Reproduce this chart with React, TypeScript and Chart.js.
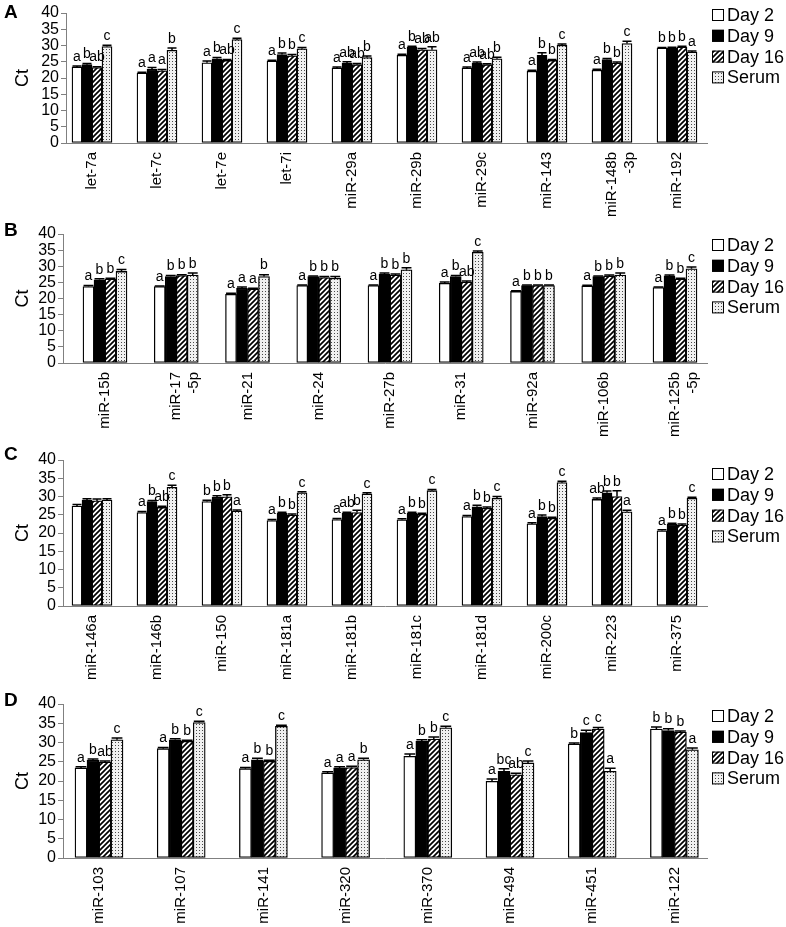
import React, { useEffect, useRef } from "react";
import { Chart, registerables } from "chart.js";
Chart.register(...registerables);

const FONT = 'Arial, "Liberation Sans", Helvetica, sans-serif';
Chart.defaults.font.family = FONT;

const seriesLabels = ["Day 2", "Day 9", "Day 16", "Serum"];
const yTicks = [0, 5, 10, 15, 20, 25, 30, 35, 40];

// ---------- Panel A ----------
const catsA: (string | string[])[] = ["let-7a", "let-7c", "let-7e", "let-7i", "miR-29a", "miR-29b", "miR-29c", "miR-143", ["miR-148b", "-3p"], "miR-192"];
const aDay2 = [23.4, 21.5, 24.7, 25.2, 23.1, 27.0, 23.1, 22.1, 22.4, 29.2];
const aDay9 = [24.1, 22.7, 25.9, 27.2, 24.6, 29.5, 24.6, 27.0, 25.7, 29.2];
const aDay16 = [23.2, 22.2, 25.4, 26.8, 24.1, 28.7, 24.1, 25.4, 24.6, 29.5];
const aSerum = [29.7, 28.5, 31.8, 29.0, 26.3, 28.7, 25.9, 30.1, 30.6, 28.0];
const aErr2 = [0.3, 0.3, 0.5, 0.3, 0.3, 0.3, 0.3, 0.3, 0.3, 0.2];
const aErr9 = [0.4, 0.5, 0.4, 0.5, 0.4, 0.3, 0.3, 0.8, 0.3, 0.3];
const aErr16 = [0.3, 0.4, 0.3, 0.4, 0.4, 0.4, 0.3, 0.3, 0.3, 0.3];
const aErrS = [0.4, 0.7, 0.4, 0.4, 0.5, 0.9, 0.5, 0.4, 0.7, 0.3];
const aLet2 = ["a", "a", "a", "a", "a", "a", "a", "a", "a", "b"];
const aLet9 = ["b", "a", "b", "b", "ab", "b", "ab", "b", "b", "b"];
const aLet16 = ["ab", "a", "ab", "b", "ab", "ab", "ab", "b", "b", "b"];
const aLetS = ["c", "b", "c", "c", "b", "ab", "b", "c", "c", "a"];

// ---------- Panel B ----------
const catsB: (string | string[])[] = ["miR-15b", ["miR-17", "-5p"], "miR-21", "miR-24", "miR-27b", "miR-31", "miR-92a", "miR-106b", ["miR-125b", "-5p"]];
const bDay2 = [23.7, 23.7, 21.3, 24.0, 24.0, 24.7, 22.2, 23.9, 23.4];
const bDay9 = [25.8, 26.8, 23.2, 26.8, 27.6, 26.8, 24.0, 26.8, 27.0];
const bDay16 = [26.0, 27.1, 22.9, 26.5, 27.3, 25.1, 24.0, 27.0, 26.0];
const bSerum = [28.4, 27.3, 26.8, 26.3, 28.9, 34.3, 24.0, 27.3, 29.2];
const bErr2 = [0.3, 0.2, 0.3, 0.2, 0.2, 0.4, 0.2, 0.2, 0.2];
const bErr9 = [0.3, 0.3, 0.4, 0.2, 0.3, 0.3, 0.2, 0.2, 0.3];
const bErr16 = [0.3, 0.3, 0.3, 0.3, 0.3, 0.3, 0.2, 0.3, 0.3];
const bErrS = [0.6, 0.6, 0.6, 0.5, 0.6, 0.4, 0.2, 0.6, 0.6];
const bLet2 = ["a", "a", "a", "a", "a", "a", "a", "a", "a"];
const bLet9 = ["b", "b", "a", "b", "b", "b", "b", "b", "b"];
const bLet16 = ["b", "b", "a", "b", "b", "ab", "b", "b", "b"];
const bLetS = ["c", "b", "b", "b", "b", "c", "b", "b", "c"];

// ---------- Panel C ----------
const catsC: (string | string[])[] = ["miR-146a", "miR-146b", "miR-150", "miR-181a", "miR-181b", "miR-181c", "miR-181d", "miR-200c", "miR-223", "miR-375"];
const cDay2 = [27.4, 25.6, 28.6, 23.4, 23.7, 23.6, 24.5, 22.5, 29.2, 20.6];
const cDay9 = [29.0, 28.6, 29.8, 25.4, 25.4, 25.4, 27.2, 24.5, 31.0, 22.4];
const cDay16 = [28.8, 27.0, 29.9, 24.9, 25.6, 25.1, 26.8, 24.0, 30.0, 22.2];
const cSerum = [29.0, 32.5, 26.0, 31.0, 30.7, 31.6, 29.5, 33.8, 25.8, 29.5];
const cErr2 = [0.4, 0.3, 0.4, 0.3, 0.3, 0.3, 0.3, 0.3, 0.4, 0.3];
const cErr9 = [0.4, 0.3, 0.4, 0.3, 0.3, 0.3, 0.4, 0.4, 0.5, 0.3];
const cErr16 = [0.5, 0.3, 0.6, 0.3, 0.6, 0.3, 0.3, 0.3, 1.6, 0.3];
const cErrS = [0.4, 0.6, 0.3, 0.3, 0.3, 0.3, 0.5, 0.4, 0.4, 0.3];
const cLet2 = ["", "a", "b", "a", "a", "a", "a", "a", "ab", "a"];
const cLet9 = ["", "b", "b", "b", "ab", "b", "b", "b", "b", "b"];
const cLet16 = ["", "ab", "b", "b", "b", "b", "b", "b", "b", "b"];
const cLetS = ["", "c", "a", "c", "c", "c", "c", "c", "a", "c"];

// ---------- Panel D ----------
const catsD: (string | string[])[] = ["miR-103", "miR-107", "miR-141", "miR-320", "miR-370", "miR-494", "miR-451", "miR-122"];
const dDay2 = [23.4, 28.4, 23.2, 22.1, 26.4, 19.9, 29.6, 33.5];
const dDay9 = [25.4, 30.7, 25.5, 23.4, 30.3, 22.5, 32.6, 33.1];
const dDay16 = [24.9, 30.3, 25.1, 23.5, 30.9, 21.6, 33.5, 32.7];
const dSerum = [30.7, 35.2, 34.2, 25.5, 33.8, 24.7, 22.5, 28.1];
const dErr2 = [0.3, 0.3, 0.3, 0.3, 0.6, 0.6, 0.3, 0.5];
const dErr9 = [0.3, 0.3, 0.4, 0.3, 0.4, 0.7, 0.6, 0.5];
const dErr16 = [0.3, 0.3, 0.3, 0.3, 0.5, 0.4, 0.4, 0.3];
const dErrS = [0.5, 0.3, 0.3, 0.4, 0.4, 0.5, 0.8, 0.5];
const dLet2 = ["a", "a", "a", "a", "a", "a", "b", "b"];
const dLet9 = ["b", "b", "b", "a", "b", "bc", "c", "b"];
const dLet16 = ["ab", "b", "b", "a", "b", "ab", "c", "b"];
const dLetS = ["c", "c", "c", "b", "c", "c", "a", "a"];

type PanelCfg = {
  letter: string;
  top: number;
  height: number;
  plotTop: number;
  plotBottom: number;
  axisLeft: number;
  axisRight: number;
  firstCenter: number;
  spacing: number;
  barW: number;
  legendTop: number;
  letterY: number;
  cats: (string | string[])[];
  vals: number[][];
  errs: number[][];
  lets: string[][];
};

const panels: PanelCfg[] = [
  { letter: "A", top: 0, height: 232, plotTop: 13, plotBottom: 143, axisLeft: 66, axisRight: 707, firstCenter: 92, spacing: 65, barW: 10, legendTop: 15, letterY: 13,
    cats: catsA, vals: [aDay2, aDay9, aDay16, aSerum], errs: [aErr2, aErr9, aErr16, aErrS], lets: [aLet2, aLet9, aLet16, aLetS] },
  { letter: "B", top: 215, height: 245, plotTop: 234, plotBottom: 363, axisLeft: 63, axisRight: 707, firstCenter: 105, spacing: 71.25, barW: 11, legendTop: 245, letterY: 231,
    cats: catsB, vals: [bDay2, bDay9, bDay16, bSerum], errs: [bErr2, bErr9, bErr16, bErrS], lets: [bLet2, bLet9, bLet16, bLetS] },
  { letter: "C", top: 445, height: 250, plotTop: 460, plotBottom: 606, axisLeft: 63, axisRight: 707, firstCenter: 92, spacing: 65, barW: 10, legendTop: 474, letterY: 455,
    cats: catsC, vals: [cDay2, cDay9, cDay16, cSerum], errs: [cErr2, cErr9, cErr16, cErrS], lets: [cLet2, cLet9, cLet16, cLetS] },
  { letter: "D", top: 690, height: 237, plotTop: 704, plotBottom: 858, axisLeft: 63, axisRight: 707, firstCenter: 99, spacing: 82.2, barW: 12, legendTop: 716, letterY: 701,
    cats: catsD, vals: [dDay2, dDay9, dDay16, dSerum], errs: [dErr2, dErr9, dErr16, dErrS], lets: [dLet2, dLet9, dLet16, dLetS] },
];

function makeHatch(): CanvasPattern {
  const c = document.createElement("canvas");
  const s = 5;
  c.width = s;
  c.height = s;
  const g = c.getContext("2d")!;
  g.fillStyle = "#fff";
  g.fillRect(0, 0, s, s);
  g.strokeStyle = "#000";
  g.lineWidth = 1.7;
  g.beginPath();
  g.moveTo(-1, s + 1);
  g.lineTo(s + 1, -1);
  g.moveTo(-1, 1);
  g.lineTo(1, -1);
  g.moveTo(s - 1, s + 1);
  g.lineTo(s + 1, s - 1);
  g.stroke();
  return g.createPattern(c, "repeat")!;
}

function makeDots(): CanvasPattern {
  const c = document.createElement("canvas");
  c.width = 3;
  c.height = 3;
  const g = c.getContext("2d")!;
  g.fillStyle = "#f0f0f0";
  g.fillRect(0, 0, 3, 3);
  g.fillStyle = "#4a4a4a";
  g.fillRect(1, 1, 1, 1);
  return g.createPattern(c, "repeat")!;
}

function Panel({ cfg }: { cfg: PanelCfg }) {
  const ref = useRef<HTMLCanvasElement>(null);
  useEffect(() => {
    const canvas = ref.current!;
    const hatch = makeHatch();
    const dots = makeDots();
    const fills: (string | CanvasPattern)[] = ["#ffffff", "#000000", hatch, dots];
    const W = 786;
    const minV = -(cfg.firstCenter - cfg.axisLeft) / cfg.spacing;
    const maxV = (cfg.axisRight - cfg.firstCenter) / cfg.spacing;
    const datasets = cfg.vals.map((arr, di) => ({
      label: seriesLabels[di],
      data: arr.map((v, i) => ({ x: i, y: v })),
      backgroundColor: fills[di],
      borderColor: "#000",
      borderWidth: 1.3,
      borderSkipped: false,
      barThickness: cfg.barW,
    }));

    const overlay = {
      id: "overlay",
      afterDatasetsDraw(chart: any) {
        const ctx: CanvasRenderingContext2D = chart.ctx;
        const ys = chart.scales.y;
        cfg.vals.forEach((arr, di) => {
          const meta = chart.getDatasetMeta(di);
          meta.data.forEach((bar: any, j: number) => {
            const v = arr[j];
            const e = cfg.errs[di][j];
            const x = bar.x;
            const w = bar.width;
            const yTop = ys.getPixelForValue(v);
            const yErr = ys.getPixelForValue(v + e);
            ctx.save();
            ctx.strokeStyle = "#000";
            ctx.lineWidth = 1.5;
            ctx.beginPath();
            ctx.moveTo(x, yTop);
            ctx.lineTo(x, yErr);
            ctx.moveTo(x - w * 0.45, yErr);
            ctx.lineTo(x + w * 0.45, yErr);
            ctx.stroke();
            const t = cfg.lets[di][j];
            if (t) {
              ctx.font = `14px ${FONT}`;
              ctx.fillStyle = "#000";
              ctx.textAlign = "center";
              ctx.textBaseline = "bottom";
              ctx.fillText(t, x, yErr - 2);
            }
            ctx.restore();
          });
        });
        // legend
        ctx.save();
        const lx = 712;
        const off = cfg.top;
        seriesLabels.forEach((lab, k) => {
          const cy = cfg.legendTop - off + k * 20.8;
          ctx.fillStyle = fills[k] as any;
          ctx.fillRect(lx, cy - 6, 12, 12);
          ctx.strokeStyle = "#000";
          ctx.lineWidth = 1;
          ctx.strokeRect(lx + 0.5, cy - 5.5, 11, 11);
          ctx.fillStyle = "#000";
          ctx.font = `18px ${FONT}`;
          ctx.textAlign = "left";
          ctx.textBaseline = "middle";
          ctx.fillText(lab, lx + 15, cy + 1);
        });
        // panel letter
        ctx.font = `bold 19px ${FONT}`;
        ctx.textAlign = "left";
        ctx.textBaseline = "middle";
        ctx.fillText(cfg.letter, 4, cfg.letterY - off);
        ctx.restore();
      },
    };

    const plotBottomInCanvas = cfg.plotBottom - cfg.top;
    const chart = new Chart(canvas, {
      type: "bar",
      data: { datasets: datasets as any },
      options: {
        animation: false,
        responsive: false,
        devicePixelRatio: 1,
        layout: {
          padding: { left: 0, right: W - cfg.axisRight, top: cfg.plotTop - cfg.top, bottom: 0 },
        },
        plugins: { legend: { display: false }, tooltip: { enabled: false } },
        scales: {
          x: {
            type: "linear",
            min: minV,
            max: maxV,
            offset: false,
            afterBuildTicks: (scale: any) => {
              scale.ticks = cfg.cats.map((_, i) => ({ value: i }));
            },
            afterFit: (scale: any) => {
              scale.height = cfg.height - plotBottomInCanvas;
            },
            grid: { display: false, drawTicks: false },
            border: { display: true, color: "#808080", width: 1 },
            ticks: {
              autoSkip: false,
              maxRotation: 90,
              minRotation: 90,
              padding: 9,
              color: "#000",
              font: { size: 15 },
              callback: (v: any) => cfg.cats[Math.round(Number(v))] as any,
            },
          },
          y: {
            type: "linear",
            min: 0,
            max: 40,
            afterBuildTicks: (scale: any) => {
              scale.ticks = yTicks.map((v) => ({ value: v }));
            },
            afterFit: (scale: any) => {
              scale.width = cfg.axisLeft;
            },
            grid: { drawOnChartArea: false, color: "#808080", tickLength: 5, lineWidth: 1 },
            border: { display: true, color: "#808080", width: 1 },
            ticks: { color: "#000", font: { size: 16 }, padding: 2, autoSkip: false },
            title: { display: true, text: "Ct", color: "#000", font: { size: 18 }, padding: { top: 12, bottom: 0 } },
          },
        },
      },
      plugins: [overlay],
    });
    return () => chart.destroy();
  }, [cfg]);
  return (
    <canvas
      ref={ref}
      width={786}
      height={cfg.height}
      style={{ position: "absolute", left: 0, top: cfg.top, width: 786, height: cfg.height, display: "block" }}
    />
  );
}

export default function App() {
  return (
    <div style={{ position: "absolute", left: 0, top: 0, width: 786, height: 927, background: "#fff", overflow: "hidden" }}>
      {panels.map((p) => (
        <Panel key={p.letter} cfg={p} />
      ))}
    </div>
  );
}
